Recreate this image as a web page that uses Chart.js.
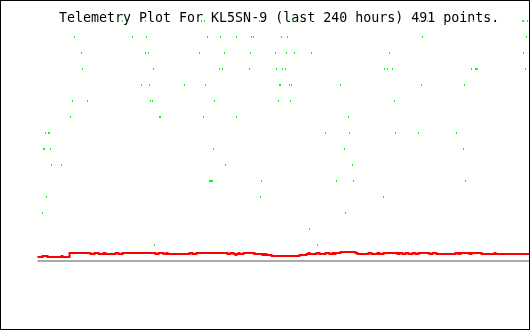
<!DOCTYPE html>
<html>
<head>
<meta charset="utf-8">
<script src="https://cdn.jsdelivr.net/npm/chart.js@4/dist/chart.umd.min.js"></script>
<style>
  html, body { margin: 0; padding: 0; background: #ffffff; }
  #wrap { width: 530px; height: 330px; }
</style>
</head>
<body>
<div id="wrap"><canvas id="c" width="530" height="330"></canvas></div>
<script>
// ---- data (x = sample index 0..491, y = telemetry value) ----
const titleText = "Telemetry Plot For KL5SN-9 (last 240 hours) 491 points.";

const greenLevels = [240, 224, 208, 192, 176, 160, 144, 128, 112, 96, 80, 64, 48, 32, 16];
const g240 = [84, 107, 163, 166, 221, 254, 273, 381, 389, 435, 484, 485, 489];
const g224 = [36, 94, 108, 169, 182, 198, 213, 215, 243, 249, 384, 488];
const g208 = [43, 107, 110, 161, 186, 212, 237, 248, 256, 273, 351, 485];
const g192 = [44, 115, 181, 184, 211, 238, 244, 247, 346, 349, 354, 433, 437, 438, 439, 487];
const g176 = [103, 111, 146, 167, 241, 242, 251, 253, 302, 383, 426];
const g160 = [34, 49, 112, 114, 176, 240, 252, 356];
const g144 = [32, 121, 122, 165, 198, 310];
const g128 = [7, 10, 11, 287, 311, 357, 380, 418];
const g112 = [5, 6, 12, 175, 306, 425];
const g96  = [13, 23, 187, 314];
const g80  = [171, 172, 173, 174, 223, 298, 315, 427];
const g64  = [8, 222, 345];
const g48  = [4, 307];
const g32  = [271];
const g16  = [116, 279];
const greenSamples = [g240, g224, g208, g192, g176, g160, g144, g128, g112, g96, g80, g64, g48, g32, g16];

const redStart = [0, 4, 9, 23, 24, 31, 52, 56, 60, 65, 67, 77, 80, 84, 117, 120, 125, 128, 129, 151,
  154, 158, 189, 192, 195, 197, 198, 200, 201, 205, 216, 224, 226, 228, 233, 261, 268, 270, 271, 278,
  281, 287, 291, 294, 295, 297, 302, 317, 319, 330, 333, 339, 341, 345, 359, 361, 364, 367, 370, 374,
  377, 380, 391, 394, 398, 417, 420, 422, 431, 433, 443, 456, 457, 491];
const redValue = [4, 5, 4, 5, 4, 8, 7, 8, 7, 8, 7, 8, 7, 8, 7, 8, 7, 8, 7, 8,
  7, 8, 7, 8, 7, 6, 7, 8, 7, 8, 7, 6, 7, 6, 5, 6, 7, 8, 7, 8,
  7, 8, 7, 8, 7, 8, 9, 8, 7, 8, 7, 8, 7, 8, 7, 8, 7, 8, 7, 8,
  7, 8, 7, 8, 7, 8, 7, 8, 7, 8, 7, 8, 7, 7];

const baseX = [0, 491];
const baseY = [0, 0];

// ---- build datasets ----
const greenPts = [];
greenLevels.forEach((lv, k) => greenSamples[k].forEach(i => greenPts.push({ x: i, y: lv })));
const redPts = redStart.map((s, k) => ({ x: s, y: redValue[k] }));
const basePts = baseX.map((x, k) => ({ x: x, y: baseY[k] }));

const framePlugin = {
  id: 'frame',
  beforeDraw(chart) {
    const ctx = chart.ctx;
    ctx.save();
    ctx.fillStyle = '#ffffff';
    ctx.fillRect(0, 0, chart.width, chart.height);
    ctx.restore();
  },
  beforeDatasetsDraw(chart) {
    const ctx = chart.ctx;
    ctx.save();
    ctx.fillStyle = '#000000';
    ctx.font = '13.3px "DejaVu Sans Mono", monospace';
    ctx.textBaseline = 'alphabetic';
    ctx.textAlign = 'left';
    ctx.fillText(titleText, 59, 21.5);
    ctx.restore();
  },
  afterDraw(chart) {
    const ctx = chart.ctx;
    ctx.save();
    ctx.strokeStyle = '#000000';
    ctx.lineWidth = 1;
    ctx.strokeRect(0.5, 0.5, chart.width - 1, chart.height - 1);
    ctx.restore();
  }
};

new Chart(document.getElementById('c'), {
  type: 'scatter',
  data: {
    datasets: [
      {
        data: basePts, showLine: true, borderColor: '#aaaaaa', borderWidth: 2,
        pointRadius: 0, borderCapStyle: 'square', clip: false
      },
      {
        data: redPts, showLine: true, stepped: 'before', borderColor: '#ff0000', borderWidth: 2,
        pointRadius: 0, borderCapStyle: 'square', clip: false
      },
      {
        data: greenPts, showLine: false, pointStyle: 'line', pointRotation: 90, pointRadius: 1,
        pointBorderWidth: 1, pointBorderColor: '#00ff00', pointBackgroundColor: '#00ff00', clip: false
      }
    ]
  },
  options: {
    responsive: false,
    devicePixelRatio: 1,
    animation: false,
    events: [],
    layout: { autoPadding: false, padding: { left: 38, right: 0, top: 0, bottom: 0 } },
    plugins: { legend: { display: false }, tooltip: { enabled: false }, title: { display: false } },
    scales: {
      x: { type: 'linear', display: false, min: -0.5, max: 491.5 },
      y: { type: 'linear', display: false, min: -69, max: 261 }
    }
  },
  plugins: [framePlugin]
});
</script>
</body>
</html>
